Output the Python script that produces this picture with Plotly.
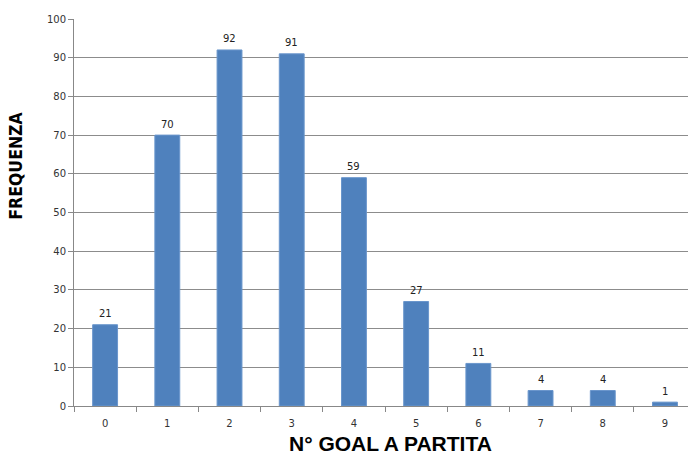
import plotly.graph_objects as go

categories = ["0", "1", "2", "3", "4", "5", "6", "7", "8", "9"]
frequenze = [21, 70, 92, 91, 59, 27, 11, 4, 4, 1]
y_ticks = [0, 10, 20, 30, 40, 50, 60, 70, 80, 90, 100]

fig = go.Figure(go.Bar(
    x=categories, y=frequenze,
    marker=dict(color="#4F81BD", line=dict(color="#6A96CC", width=1)),
    width=0.4,
    cliponaxis=False,
))

label_annotations = [
    dict(x=c, y=v, xref="x", yref="y", text=str(v), showarrow=False,
         yanchor="middle", yshift=11,
         font=dict(family="DejaVu Sans", size=10, color="#222222"))
    for c, v in zip(categories, frequenze)
]

fig.update_layout(
    width=688, height=454,
    margin=dict(l=74, r=0, t=19, b=48),
    plot_bgcolor="white", paper_bgcolor="white",
    showlegend=False,
    font=dict(family="DejaVu Sans", size=10, color="#333333"),
    xaxis=dict(
        type="category", range=[-0.5, 9.37],
        tickson="boundaries", ticks="outside", ticklen=5, tickcolor="#888888",
        showline=True, linecolor="#888888", linewidth=1,
        showgrid=False, ticklabelstandoff=8,
        tickfont=dict(size=10, color="#333333"),
    ),
    yaxis=dict(
        range=[0, 100], tickvals=y_ticks,
        ticks="outside", ticklen=5, tickcolor="#888888",
        showline=True, linecolor="#888888", linewidth=1,
        showgrid=True, gridcolor="#8C8C8C", gridwidth=1,
        tickfont=dict(size=10, color="#333333"),
        zeroline=False,
    ),
    annotations=label_annotations + [
        dict(text="<b>N° GOAL A PARTITA</b>", xref="paper", yref="paper",
             x=0.515, y=-0.097, yanchor="middle", xanchor="center", showarrow=False,
             font=dict(family="Liberation Sans, Arial, sans-serif", size=21, color="#000000")),
        dict(text="<b>FREQUENZA</b>", xref="paper", yref="paper",
             x=-0.0945, xanchor="center", y=0.621, yanchor="middle", textangle=-90,
             showarrow=False,
             font=dict(family="Liberation Sans Narrow, DejaVu Sans Condensed, sans-serif",
                       size=17.5, color="#000000")),
    ],
)

fig.write_html("out.html")
